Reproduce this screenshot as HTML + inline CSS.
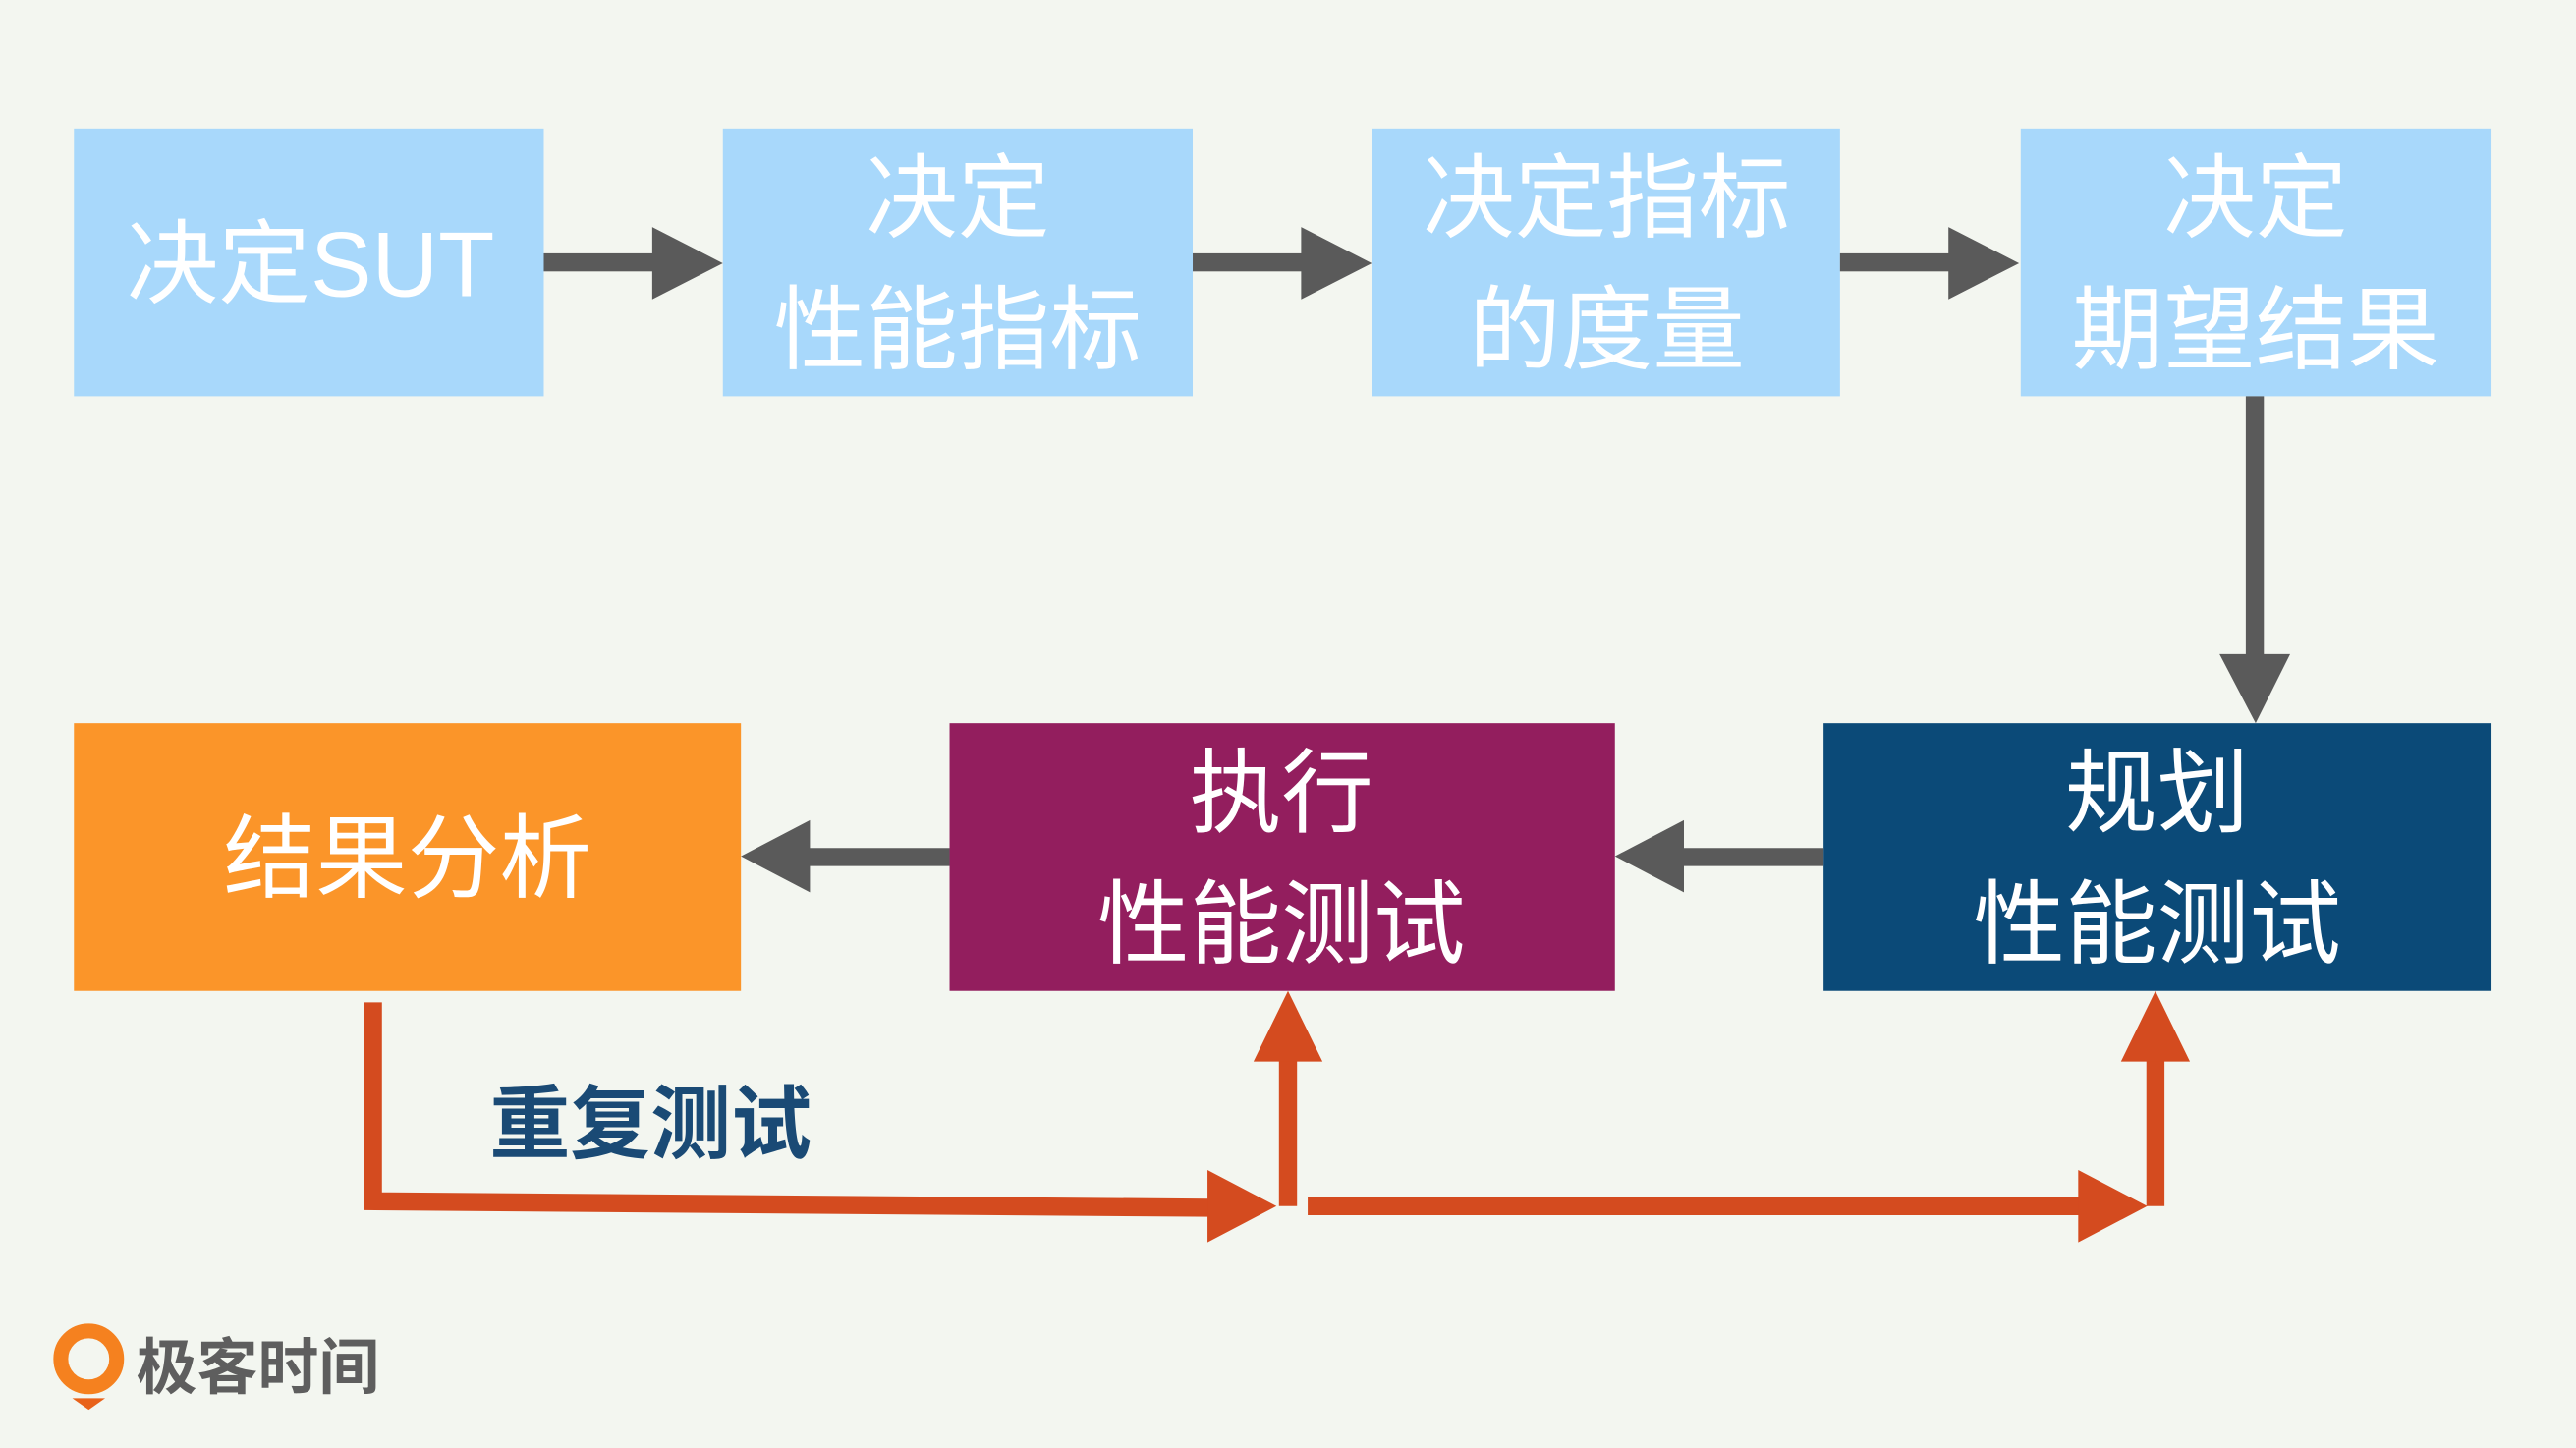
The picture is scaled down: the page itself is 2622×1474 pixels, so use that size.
<!DOCTYPE html>
<html><head><meta charset="utf-8"><style>
html,body{margin:0;padding:0;background:#f3f6f0;}
svg{display:block}
text{font-family:"Liberation Sans","Noto Sans CJK SC",sans-serif;}
</style></head><body>
<svg width="2622" height="1474" viewBox="0 0 1568 881" xmlns="http://www.w3.org/2000/svg">
<rect width="1568" height="881" fill="#f3f6f0"/>
<g fill="#a8d8fb">
<rect x="45" y="78" width="286" height="163"/>
<rect x="440" y="78" width="286" height="163"/>
<rect x="835" y="78" width="285" height="163"/>
<rect x="1230" y="78" width="286" height="163"/>
</g>
<rect x="45" y="440" width="406" height="163" fill="#fb9529"/>
<rect x="578" y="440" width="405" height="163" fill="#931e5e"/>
<rect x="1110" y="440" width="406" height="163" fill="#0b4a78"/>
<g fill="#fff" font-size="56" text-anchor="middle">
<text x="189" y="180">决定SUT</text>
<text x="583" y="140">决定</text>
<text x="583" y="220">性能指标</text>
<text x="978" y="140">决定指标</text>
<text x="978" y="220">的度量</text>
<text x="1373" y="140">决定</text>
<text x="1373" y="220">期望结果</text>
<text x="248" y="542">结果分析</text>
<text x="780" y="502">执行</text>
<text x="780" y="582">性能测试</text>
<text x="1313" y="502">规划</text>
<text x="1313" y="582">性能测试</text>
</g>
<g fill="#5a5a5a">
<rect x="331" y="154" width="68" height="11"/><polygon points="397,138 440,160 397,182"/>
<rect x="726" y="154" width="68" height="11"/><polygon points="792,138 835,160 792,182"/>
<rect x="1120" y="154" width="68" height="11"/><polygon points="1186,138 1229,160 1186,182"/>
<rect x="1367" y="241" width="11" height="159"/><polygon points="1351,398 1394,398 1373,440"/>
<rect x="492" y="516" width="86" height="11"/><polygon points="493,499 493,543 451,521"/>
<rect x="1024" y="516" width="86" height="11"/><polygon points="1025,499 1025,543 983,521"/>
</g>
<g fill="none" stroke="#d44b1f" stroke-width="11">
<polyline points="227,610 227,731 737,735"/>
<line x1="784" y1="643" x2="784" y2="734"/>
<line x1="796" y1="734" x2="1267" y2="734"/>
<line x1="1312" y1="643" x2="1312" y2="734"/>
</g>
<g fill="#d44b1f">
<polygon points="735,712 777,734 735,756"/>
<polygon points="763,646 805,646 784,603"/>
<polygon points="1265,712 1307,734 1265,756"/>
<polygon points="1291,646 1333,646 1312,603"/>
</g>
<text x="298" y="701" font-size="49" font-weight="bold" fill="#1a4a75">重复测试</text>
<circle cx="54" cy="827" r="17" fill="none" stroke="#f5811f" stroke-width="9"/>
<polygon points="44,851 64,851 54,858" fill="#e8621a"/>
<text x="83" y="845" font-size="37" font-weight="bold" fill="#5e5e5e">极客时间</text>
</svg>
</body></html>
